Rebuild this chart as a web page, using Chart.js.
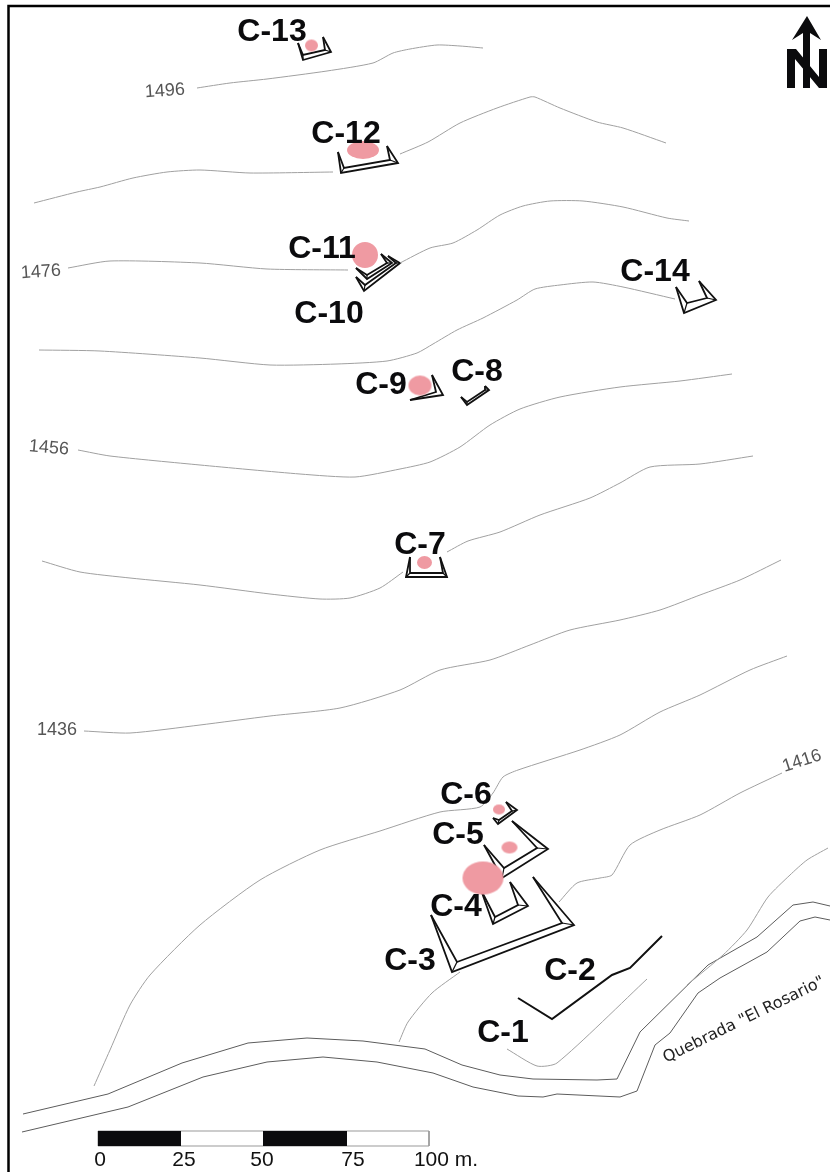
<!DOCTYPE html>
<html>
<head>
<meta charset="utf-8">
<title>Quebrada El Rosario</title>
<script src="https://cdn.jsdelivr.net/npm/chart.js@4/dist/chart.umd.min.js"></script>
<style>
  html, body { margin: 0; padding: 0; background: #fff; }
  #box { position: relative; width: 830px; height: 1172px; }
</style>
</head>
<body>
<div id="box"><canvas id="mapa"></canvas></div>
<script>
const curva1496 = [[197,88],[230,83],[267,79],[327,71],[373,63],[393,53],[410,49],[437,45],[460,46],[483,48]];
const curva1486a = [[34,203],[77,192],[100,187],[133,178],[167,172],[200,170],[250,173],[333,172]];
const curva1486b = [[400,154],[428,142],[460,123],[497,108],[530,97],[535,97],[560,108],[597,122],[623,128],[666,143]];
const curva1476a = [[68,268],[110,261],[200,263],[267,269],[348,270]];
const curva1476b = [[400,263],[430,248],[453,243],[477,230],[500,215],[523,206],[550,201],[583,201],[623,207],[667,218],[689,221]];
const curva1466 = [[39,350],[100,351],[200,358],[270,365],[337,364],[387,361],[417,353],[433,344],[457,330],[483,318],[517,300],[535,289],[560,285],[593,282],[623,287],[675,299]];
const curva1456 = [[78,450],[110,456],[200,465],[300,474],[355,477],[400,469],[430,462],[460,447],[490,425],[520,409],[560,397],[620,387],[680,381],[732,374]];
const curva1446a = [[42,561],[80,572],[130,578],[200,585],[270,594],[320,599],[350,598],[380,588],[403,572]];
const curva1446b = [[447,552],[468,541],[500,532],[540,515],[590,498],[620,483],[650,467],[700,464],[753,456]];
const curva1436 = [[84,731],[130,733],[200,725],[270,716],[340,708],[400,690],[440,670],[490,660],[530,645],[570,630],[620,620],[660,610],[700,595],[740,580],[781,560]];
const curva1426 = [[94,1086],[110,1050],[130,1005],[150,975],[200,925],[260,880],[320,850],[380,831],[440,812],[480,807],[493,793],[503,777],[518,770],[580,750],[620,735],[660,712],[700,695],[750,670],[787,656]];
const curva1416a = [[399,1042],[408,1022],[432,993],[460,972]];
const curva1416b = [[559,902],[577,883],[600,878],[612,875],[630,845],[660,830],[700,815],[740,793],[782,773]];
const curva1406 = [[828,848],[807,860],[790,875],[768,897],[747,930],[723,955],[687,985]];
const curvaBaja = [[507,1049],[537,1066],[557,1063],[647,979]];

// quebrada
const rioNorte = [[23,1114],[108,1094],[182,1063],[248,1043],[307,1038],[363,1041],[425,1049],[462,1065],[500,1075],[533,1079],[597,1080],[617,1079],[640,1032],[708,965],[757,937],[793,905],[813,902],[830,906]];
const rioSur = [[22,1132],[128,1107],[203,1077],[267,1062],[323,1057],[377,1062],[433,1073],[473,1087],[518,1096],[543,1097],[557,1094],[620,1097],[637,1091],[655,1045],[670,1033],[698,993],[720,978],[767,952],[800,921],[815,917],[830,920]];

// muro C-2
const muroC2 = [[518,998],[552,1019],[612,975],[630,968],[662,936]];

// terrazas: A, B, C, D exterior y B', C' interior
const terrazas = {
  'C-3':  [[431,915],[452,972],[574,925],[533,877],[457,962],[562,923]],
  'C-4':  [[481,890],[493,924],[528,906],[510,882],[495,917],[518,905]],
  'C-5':  [[484,845],[502,878],[548,849],[512,821],[504,868],[537,848]],
  'C-6':  [[493,818],[498,824],[517,810],[506,802],[499,820],[512,811]],
  'C-7':  [[410,557],[406,577],[447,577],[440,557],[410,573],[443,573]],
  'C-8':  [[461,397],[467,405],[489,390],[485,386],[467,402],[485,390]],
  'C-10': [[356,277],[364,291],[400,263],[388,256],[365,285],[396,263]],
  'C-11': [[356,268],[367,279],[392,263],[381,254],[367,275],[387,263]],
  'C-12': [[338,152],[341,173],[398,163],[387,146],[344,168],[390,160]],
  'C-13': [[298,43],[303,60],[331,52],[323,37],[303,55],[325,50]],
  'C-14': [[676,287],[684,313],[716,300],[699,281],[687,303],[707,298]]
};
const terrazaC9 = [[410,400],[443,395],[432,375]];
const terrazaC9in = [[410,400],[436,392],[432,375]];

// manchas (x, y, rx, ry)
const manchaX = [311.5, 363, 365, 420, 424.5, 499, 509.5, 483];
const manchaY = [45.5, 150, 255, 385.5, 562.5, 809.5, 847.5, 878];
const manchaRx = [6.5, 16, 13, 11.5, 7.5, 6, 8, 20.5];
const manchaRy = [6, 9, 13, 10, 6.5, 5, 6, 16.5];

// escala grafica
const escalaX = [98, 181, 263, 347, 429];
const escalaY = [1131, 1146];
const escalaTxt = ['0', '25', '50', '75', '100 m.'];
const escalaTxtX = [100, 184, 262, 353, 446];

// norte
const flecha = [[807,16],[821,40],[810,33],[810,88],[803,88],[803,33],[792,40]];
const letraN = [[787,49],[796,49],[819,77],[819,49],[827,49],[827,88],[819,88],[795,59],[795,88],[787,88]];
const marco = [[8.5,1172],[8.5,6],[830,6]];

// rotulos
const sitios = ['C-1','C-2','C-3','C-4','C-5','C-6','C-7','C-8','C-9','C-10','C-11','C-12','C-13','C-14'];
const sitiosX = [503,570,410,456,458,466,420,477,381,329,322,346,272,655];
const sitiosY = [1033,971,961,907,835,795,545,372,385,314,249,134,32,272];
const cotas = ['1496','1476','1456','1436','1416'];
const cotasX = [165,41,49,57,802];
const cotasY = [91,272,448,730,761];
const cotasGiro = [-4,-4,5,0,-18];

const pts = a => a.map(p => ({ x: p[0], y: p[1] }));

function linea(data, color, ancho, tension) {
  return { type: 'scatter', data: pts(data), showLine: true, borderColor: color, borderWidth: ancho,
           tension: tension || 0, pointRadius: 0, fill: false, borderJoinStyle: 'miter' };
}
function poligono(data, color) {
  const d = linea(data.concat([data[0]]), color, 0);
  d.fill = 'shape';
  d.backgroundColor = color;
  return d;
}
function elipse(rx, ry) {
  const c = document.createElement('canvas');
  c.width = Math.ceil(rx * 2) + 2;
  c.height = Math.ceil(ry * 2) + 2;
  const g = c.getContext('2d');
  g.fillStyle = '#ef9aa2';
  g.beginPath();
  g.ellipse(c.width / 2, c.height / 2, rx, ry, 0, 0, Math.PI * 2);
  g.fill();
  return c;
}

const datasets = [];
[curva1496, curva1486a, curva1486b, curva1476a, curva1476b, curva1466, curva1456, curva1446a, curva1446b,
 curva1436, curva1426, curva1416a, curva1416b, curva1406, curvaBaja].forEach(c => {
  datasets.push(linea(c, '#a0a0a0', 1, 0.22));
});
datasets.push(linea(rioNorte, '#5c5c5c', 1));
datasets.push(linea(rioSur, '#5c5c5c', 1));
datasets.push(linea(muroC2, '#111', 2));

// manchas debajo de las terrazas
datasets.push({
  type: 'scatter',
  data: manchaX.map((x, i) => ({ x: x, y: manchaY[i] })),
  pointStyle: manchaX.map((x, i) => elipse(manchaRx[i], manchaRy[i])),
  pointRadius: 5,
  showLine: false
});

Object.values(terrazas).forEach(t => {
  datasets.push(linea([t[0], t[1], t[2], t[3]], '#111', 1.8));
  datasets.push(linea([t[0], t[4], t[5], t[3]], '#111', 1.8));
  datasets.push(linea([t[1], t[4]], '#111', 1.2));
  datasets.push(linea([t[2], t[5]], '#111', 1.2));
});
datasets.push(linea(terrazaC9, '#111', 1.8));
datasets.push(linea(terrazaC9in, '#111', 1.8));

// escala
datasets.push(poligono([[escalaX[0],escalaY[0]],[escalaX[1],escalaY[0]],[escalaX[1],escalaY[1]],[escalaX[0],escalaY[1]]], '#0b0b0d'));
datasets.push(poligono([[escalaX[2],escalaY[0]],[escalaX[3],escalaY[0]],[escalaX[3],escalaY[1]],[escalaX[2],escalaY[1]]], '#0b0b0d'));
datasets.push(linea([[escalaX[0],escalaY[0]],[escalaX[4],escalaY[0]],[escalaX[4],escalaY[1]],[escalaX[0],escalaY[1]],[escalaX[0],escalaY[0]]], '#999', 1));

// norte y marco
datasets.push(poligono(letraN, '#0b0b0d'));
datasets.push(poligono(flecha, '#0b0b0d'));
datasets.push(linea(marco, '#000', 2.5));

// rotulos con las escalas del grafico
const rotulos = {
  id: 'rotulos',
  afterDatasetsDraw(chart) {
    const { ctx, scales: { x, y } } = chart;
    const texto = (t, px, py, font, color, giro, align) => {
      ctx.save();
      ctx.translate(x.getPixelForValue(px), y.getPixelForValue(py));
      ctx.rotate((giro || 0) * Math.PI / 180);
      ctx.font = font;
      ctx.fillStyle = color;
      ctx.textAlign = align || 'center';
      ctx.textBaseline = 'middle';
      ctx.fillText(t, 0, 0);
      ctx.restore();
    };
    sitios.forEach((s, i) => texto(s, sitiosX[i], sitiosY[i], 'bold 32px "Liberation Sans"', '#0b0b0d'));
    cotas.forEach((c, i) => texto(c, cotasX[i], cotasY[i], '18px "Liberation Sans"', '#555', cotasGiro[i]));
    escalaTxt.forEach((t, i) => texto(t, escalaTxtX[i], 1160, '21px "Liberation Sans"', '#111'));
    texto('Quebrada "El Rosario"', 744, 1020, '16px "DejaVu Sans"', '#222', -26);
  }
};

new Chart(document.getElementById('mapa').getContext('2d'), {
  type: 'scatter',
  data: { datasets: datasets },
  options: {
    responsive: true,
    maintainAspectRatio: false,
    animation: false,
    layout: { padding: 0, autoPadding: false },
    plugins: { legend: { display: false }, tooltip: { enabled: false } },
    scales: {
      x: { type: 'linear', min: 0, max: 830, display: false },
      y: { type: 'linear', min: 0, max: 1172, reverse: true, display: false }
    }
  },
  plugins: [rotulos]
});
</script>
</body>
</html>
